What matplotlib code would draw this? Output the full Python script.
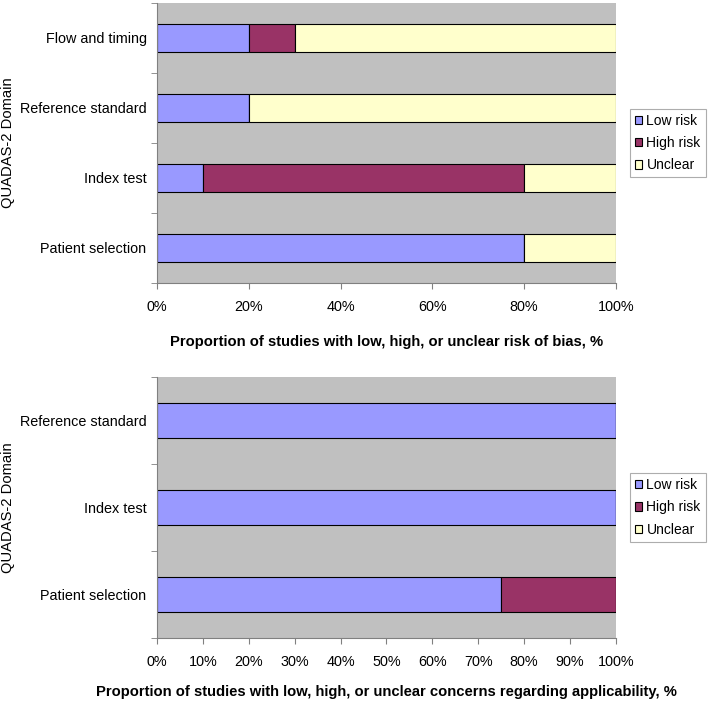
import matplotlib.pyplot as plt
import numpy as np
from matplotlib.ticker import FixedLocator, PercentFormatter

plt.rcParams['font.family'] = ['Liberation Sans', 'DejaVu Sans']

# risk of bias (bottom to top)
bias_domains = ['Patient selection', 'Index test', 'Reference standard', 'Flow and timing']
bias_low = [80, 10, 20, 20]
bias_high = [0, 70, 0, 10]
bias_unclear = [20, 20, 80, 70]

# applicability concerns (bottom to top)
appl_domains = ['Patient selection', 'Index test', 'Reference standard']
appl_low = [75, 100, 100]
appl_high = [25, 0, 0]
appl_unclear = [0, 0, 0]

series_names = ['Low risk', 'High risk', 'Unclear']
colors = ['#9999FF', '#993366', '#FFFFCC']


def stacked_panel(ax, domains, parts, xticks, xlabel, labelpad):
    y = np.arange(len(domains))
    left = np.zeros(len(domains))
    for vals, name, col in zip(parts, series_names, colors):
        vals = np.array(vals, dtype=float)
        ax.barh(y, vals, left=left, height=0.4, color=col, edgecolor='black',
                linewidth=0.8, label=name)
        left += vals
    ax.set_facecolor('#C0C0C0')
    ax.set_xlim(0, 100)
    ax.set_ylim(-0.5, len(domains) - 0.5)
    ax.set_yticks(y)
    ax.set_yticklabels(domains, fontsize=10.4)
    ax.yaxis.set_minor_locator(FixedLocator(np.arange(-0.5, len(domains), 1.0)))
    ax.tick_params(axis='y', which='major', length=0, pad=7.5)
    ax.tick_params(axis='y', which='minor', length=4, color='#808080')
    ax.set_xticks(xticks)
    ax.xaxis.set_major_formatter(PercentFormatter(decimals=0))
    ax.tick_params(axis='x', length=4, color='#808080', labelsize=10.4, pad=8)
    for s in ['top', 'right']:
        ax.spines[s].set_visible(False)
    for s in ['left', 'bottom']:
        ax.spines[s].set_color('#808080')
    ax.set_ylabel('QUADAS-2 Domain', fontsize=10.6)
    ax.yaxis.set_label_coords(-0.31, 0.5)
    ax.set_xlabel(xlabel, fontsize=10.6, fontweight='bold', labelpad=labelpad)
    leg = ax.legend(loc='center left', bbox_to_anchor=(1.03, 0.5),
                    fontsize=10, frameon=True, fancybox=False, edgecolor='#999999',
                    handlelength=0.55, handleheight=0.55, borderpad=0.35,
                    labelspacing=0.6, handletextpad=0.3, borderaxespad=0)
    leg.get_frame().set_linewidth(0.8)
    for h in leg.legend_handles:
        h.set_linewidth(0.8)
    return leg


fig = plt.figure(figsize=(7.09, 7.02), dpi=100)

ax1 = fig.add_axes([0.2214, 0.5969, 0.6474, 0.3989])
stacked_panel(ax1, bias_domains, [bias_low, bias_high, bias_unclear],
              np.arange(0, 101, 20),
              'Proportion of studies with low, high, or unclear risk of bias, %', 15.5)

ax2 = fig.add_axes([0.2214, 0.0912, 0.6474, 0.3718])
stacked_panel(ax2, appl_domains, [appl_low, appl_high, appl_unclear],
              np.arange(0, 101, 10),
              'Proportion of studies with low, high, or unclear concerns regarding applicability, %', 12)

fig.savefig('out.png', dpi=100)
